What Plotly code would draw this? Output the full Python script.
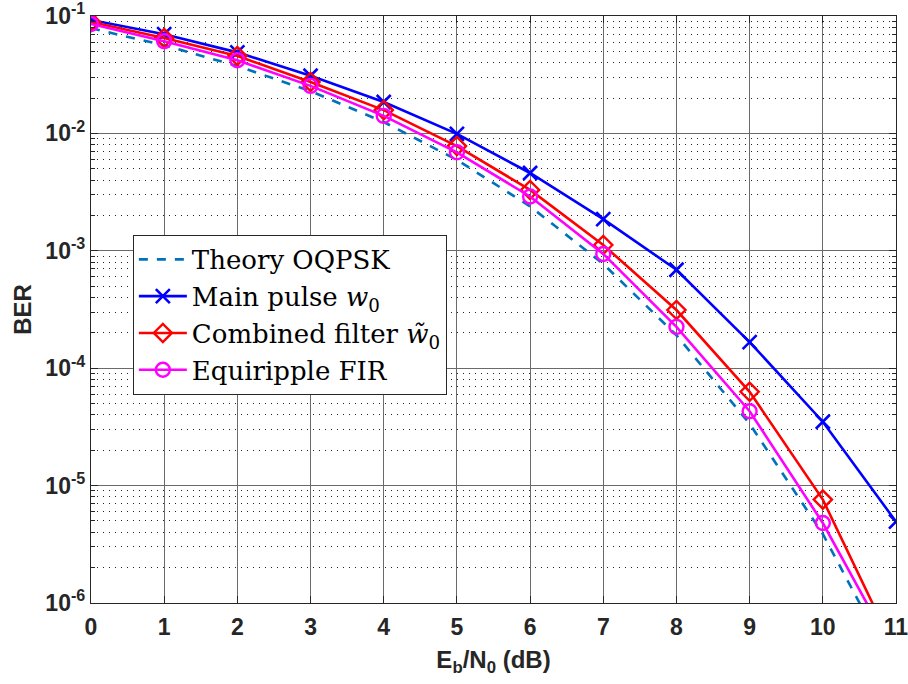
import plotly.graph_objects as go

ebn0 = list(range(0, 12))
theory = [0.0786, 0.0563, 0.0375, 0.0229, 0.0125, 0.00595, 0.00239, 7.73e-4, 1.91e-4, 3.36e-5, 3.87e-6, 2.61e-7]
main_pulse = [0.0925, 0.070, 0.049, 0.031, 0.0185, 0.0099, 0.0046, 0.00186, 6.9e-4, 1.67e-4, 3.5e-5, 4.93e-6]
combined = [0.089, 0.065, 0.0457, 0.0274, 0.0158, 0.0078, 0.0033, 0.00112, 3.13e-4, 6.3e-5, 7.6e-6, 3.8e-7]
equiripple = [0.0855, 0.061, 0.042, 0.0254, 0.0141, 0.0069, 0.0029, 9.4e-4, 2.25e-4, 4.3e-5, 4.8e-6, 3.5e-7]

y_tickvals = [1e-6, 1e-5, 1e-4, 1e-3, 1e-2, 1e-1]
y_ticktext = ["<b>10<sup>-6</sup></b>", "<b>10<sup>-5</sup></b>", "<b>10<sup>-4</sup></b>",
              "<b>10<sup>-3</sup></b>", "<b>10<sup>-2</sup></b>", "<b>10<sup>-1</sup></b>"]
x_tickvals = list(range(0, 12))
x_ticktext = ["<b>%d</b>" % v for v in x_tickvals]
y_minor_vals = [m * 10.0 ** e for e in range(-6, -1) for m in range(2, 10)]

fig = go.Figure()
fig.add_trace(go.Scatter(x=ebn0, y=theory, mode="lines", name="Theory OQPSK",
                         line=dict(color="#0072BD", width=2.6, dash="dash")))
fig.add_trace(go.Scatter(x=ebn0, y=main_pulse, mode="lines+markers", name="Main pulse <i>w</i><sub>0</sub>",
                         line=dict(color="#0000FF", width=2.6),
                         marker=dict(symbol="x-thin-open", size=14, line=dict(color="#0000FF", width=2.6))))
fig.add_trace(go.Scatter(x=ebn0, y=combined, mode="lines+markers", name="Combined filter <i>w\u0303</i><sub>0</sub>",
                         line=dict(color="#FF0000", width=2.6),
                         marker=dict(symbol="diamond-open", size=14, color="#FF0000", line=dict(color="#FF0000", width=2.4))))
fig.add_trace(go.Scatter(x=ebn0, y=equiripple, mode="lines+markers", name="Equiripple FIR",
                         line=dict(color="#FF00FF", width=2.6),
                         marker=dict(symbol="circle-open", size=14, color="#FF00FF", line=dict(color="#FF00FF", width=2.4))))

axis_font = dict(family="Liberation Sans, Arial, sans-serif", size=23, color="#262626")
title_font = dict(family="Liberation Sans, Arial, sans-serif", size=24, color="#262626")

fig.update_layout(
    width=908, height=684,
    margin=dict(l=91, r=12, t=16, b=81),
    paper_bgcolor="white", plot_bgcolor="white",
    showlegend=True,
    legend=dict(x=0.052, y=0.627, xanchor="left", yanchor="top",
                bgcolor="white", bordercolor="#262626", borderwidth=1,
                font=dict(family="DejaVu Serif, Liberation Serif, serif", size=26, color="#000000"),
                itemwidth=48, tracegroupgap=0),
    xaxis=dict(range=[0, 11], tickvals=x_tickvals, ticktext=x_ticktext, automargin=False,
               tickfont=axis_font, ticks="inside", ticklen=7, tickcolor="#262626",
               ticklabelstandoff=3, ticklabeloverflow="allow",
               showline=True, linecolor="#262626", linewidth=1.3, mirror="ticks",
               showgrid=True, gridcolor="#6a6a6a", gridwidth=1, zeroline=False,
               title=dict(text="<b>E<sub>b</sub>/N<sub>0</sub> (dB)</b>", font=title_font, standoff=12)),
    yaxis=dict(type="log", range=[-6, -1], tickvals=y_tickvals, ticktext=y_ticktext, automargin=False,
               tickfont=axis_font, ticks="inside", ticklen=7, tickcolor="#262626",
               ticklabeloverflow="allow",
               showline=True, linecolor="#262626", linewidth=1.3, mirror="ticks",
               showgrid=True, gridcolor="#6a6a6a", gridwidth=1, zeroline=False,
               minor=dict(tickmode="array", tickvals=y_minor_vals, ticks="inside", ticklen=4,
                          tickcolor="#262626", showgrid=True,
                          gridcolor="#222222", griddash="1px,5px", gridwidth=1),
               title=dict(text="<b>BER</b>", font=title_font, standoff=6)),
)

fig.write_html("out.html", config={"displayModeBar": False},
               post_script="document.body.style.margin='0';")
